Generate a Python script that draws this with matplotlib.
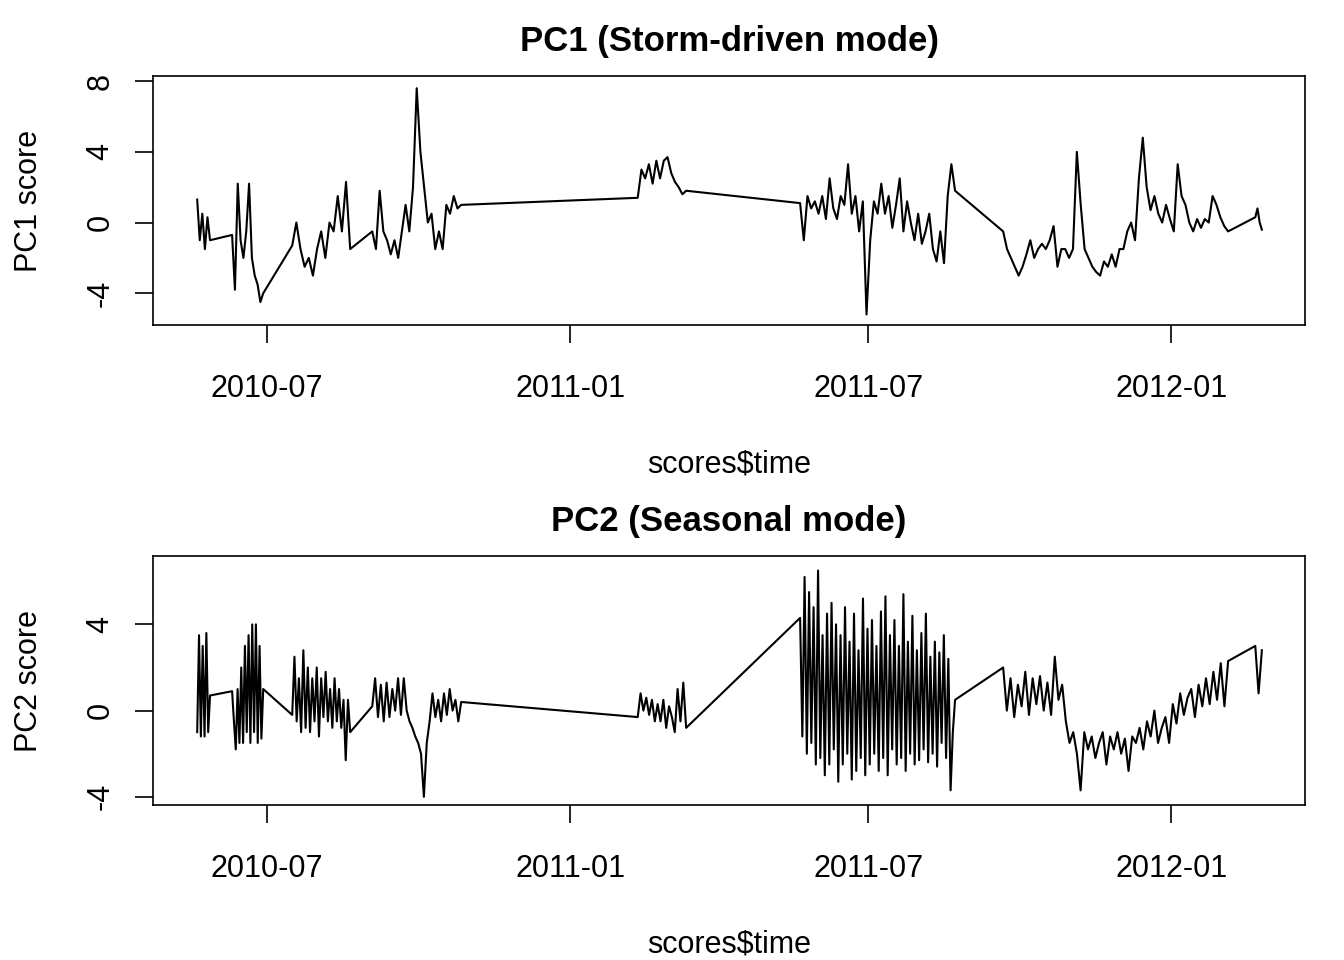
import numpy as np
import matplotlib.pyplot as plt
import matplotlib.dates as mdates
from datetime import datetime, timedelta

plt.rcParams['font.family'] = ['Liberation Sans', 'DejaVu Sans']

base = datetime(2010, 7, 1)
# segment start/end in days after 2010-07-01
seg_days = [(-42.5, -34.7), (-21.3, -2.4), (15.2, 50.4), (63.8, 117.8),
            (225.0, 254.4), (323.6, 417.7), (446.9, 583.5), (600.0, 604.0)]

pc1_segs = [
    [1.3, -1, 0.5, -1.5, 0.3, -1],
    [-0.7, -3.8, 2.2, -1, -2, -0.5, 2.2, -2, -3, -3.5, -4.5, -4],
    [-1.3, 0, -1.5, -2.5, -2, -3, -1.5, -0.5, -2, 0, -0.5, 1.5, -0.5, 2.3, -1.5],
    [-0.5, -1.5, 1.8, -0.5, -1, -1.8, -1, -2, -0.5, 1, -0.5, 2, 7.6, 4, 2, 0, 0.5,
     -1.5, -0.5, -1.5, 1, 0.5, 1.5, 0.8, 1],
    [1.4, 3, 2.5, 3.3, 2.2, 3.5, 2.5, 3.5, 3.7, 2.8, 2.3, 2.0, 1.6, 1.8],
    [1.1, -1, 1.5, 0.8, 1.2, 0.5, 1.5, 0.2, 2.5, 0.8, 0.2, 1.5, 1, 3.3, 0.5, 1.5,
     -0.5, 1.2, -5.2, -1, 1.2, 0.5, 2.2, 0.5, 1.5, -0.3, 1, 2.5, -0.5, 1.2, 0, -1,
     0.5, -1.2, -0.5, 0.5, -1.5, -2.2, -0.5, -2.3, 1.5, 3.3, 1.8],
    [-0.5, -1.5, -2, -2.5, -3, -2.5, -1.8, -1, -2, -1.5, -1.2, -1.5, -1.0, -0.2,
     -2.5, -1.5, -1.5, -2, -1.5, 4, 1, -1.5, -2, -2.5, -2.8, -3, -2.2, -2.5, -1.8,
     -2.5, -1.5, -1.5, -0.5, 0, -1, 2.5, 4.8, 2, 0.7, 1.5, 0.5, 0, 1, 0.2, -0.5,
     3.3, 1.5, 1.0, 0, -0.5, 0.2, -0.3, 0.2, 0, 1.5, 1, 0.3, -0.2, -0.5],
    [0.3, 0.8, 0, -0.4],
]

pc2_segs = [
    [-1, 3.5, -1.2, 3, -1.2, 3.6, -1, 0.7],
    [0.9, -0.5, -1.8, 1, -1.5, 2, -1.5, 3, -1, 3.5, -1.5, 4, -1, 4, -1.5, 3, -1.3, 1],
    [-0.2, 2.5, -0.5, 1.5, -1, 2.8, -0.8, 2, -1, 1.5, -0.5, 2, -1.2, 1.5, -0.3, 1.8,
     -0.5, 1, -0.8, 1.5, -0.5, 1, -0.8, 0.5, -2.3, 0.5, -1],
    [0.2, 1.5, -0.3, 1.2, -0.5, 1.3, -0.3, 1, 0, 1.5, -0.2, 1.5, 0, -0.5, -0.8, -1.2,
     -1.5, -2, -4, -1.5, -0.5, 0.8, -0.3, 0.5, -0.5, 0.8, -0.2, 1, 0, 0.5, -0.5, 0.4],
    [-0.3, 0.8, 0, 0.6, -0.2, 0.5, -0.5, 0.3, -0.5, 0.5, -0.8, 0.2, -0.3, -1, 1,
     -0.5, 1.3, -0.8],
    [4.3, -1.2, 6.2, -2, 5.5, -1.5, 4.8, -2.5, 6.5, -2.2, 3.5, -3, 4.5, -2.5, 5,
     -1.8, 4, -3.3, 3.5, -2.5, 4.8, -2, 3.2, -3.2, 4.5, -2.8, 2.8, -2.2, 5.2, -3,
     3.8, -2.5, 4.2, -2, 3, -2.8, 4.6, -2.2, 5.3, -3, 3.5, -1.8, 4.2, -2.5, 3,
     -2.2, 5.4, -2.8, 3.2, -2, 4.4, -2.5, 2.8, -2.3, 3.6, -1.8, 4.5, -2.4, 2.5,
     -2, 3.2, -2.6, 2.7, -1.5, 3.5, -2.2, 2.4, -3.7, -1, 0.5],
    [2, 0, 1.5, -0.3, 1.2, 0.2, 1.8, -0.2, 1.5, 0.3, 1.6, 0, 1.3, -0.2, 2.5, 0.5, 1.2,
     -0.5, -1.5, -1, -2, -3.7, -1, -1.8, -1.2, -2.2, -1.5, -1, -2.5, -1.2, -1.8,
     -1, -2, -1.3, -2.8, -1.2, -1.5, -0.8, -1.8, -0.5, -1.2, 0, -1.5, -0.8, -0.3,
     -1.5, 0.3, -0.6, 0.8, -0.2, 0.6, 1.0, -0.3, 1.2, 0.2, 1.5, 0.3, 1.8, 0.5,
     2.2, 0.2, 2.3],
    [3, 0.8, 2.8],
]


def build(segs):
    t, v = [], []
    for (d0, d1), vals in zip(seg_days, segs):
        for d in np.linspace(d0, d1, len(vals)):
            t.append(base + timedelta(days=float(d)))
        v.extend(vals)
    return t, v


fig = plt.figure(figsize=(13.44, 9.6), dpi=100)
panels = [
    (pc1_segs, "PC1 (Storm-driven mode)", "PC1 score", [-4, 0, 4, 8], (-5.82, 8.3), 0.661),
    (pc2_segs, "PC2 (Seasonal mode)", "PC2 score", [-4, 0, 4], (-4.4, 7.18), 0.161),
]
ticks = [datetime(2010, 7, 1), datetime(2011, 1, 1), datetime(2011, 7, 1), datetime(2012, 1, 1)]
for segs, title, ylab, yt, ylim, bot in panels:
    ax = fig.add_axes([0.114, bot, 0.857, 0.260])
    t, v = build(segs)
    ax.plot(t, v, color='black', lw=1.5)
    ax.set_xlim(base + timedelta(days=-69.2), base + timedelta(days=630.2))
    ax.set_ylim(*ylim)
    ax.set_xticks(ticks)
    ax.xaxis.set_major_formatter(mdates.DateFormatter('%Y-%m'))
    ax.set_yticks(yt)
    ax.set_yticklabels([str(y) for y in yt], rotation=90, va='center')
    ax.tick_params(direction='out', length=13, width=1.2, labelsize=22)
    ax.tick_params(axis='x', pad=22)
    ax.tick_params(axis='y', pad=14)
    for s in ax.spines.values():
        s.set_linewidth(1.2)
    ax.set_title(title, fontsize=25, fontweight='bold', pad=18)
    ax.set_ylabel(ylab, fontsize=22, labelpad=30)
    ax.set_xlabel("scores\\$time", fontsize=22, labelpad=33)

fig.savefig('out.png', dpi=100)
